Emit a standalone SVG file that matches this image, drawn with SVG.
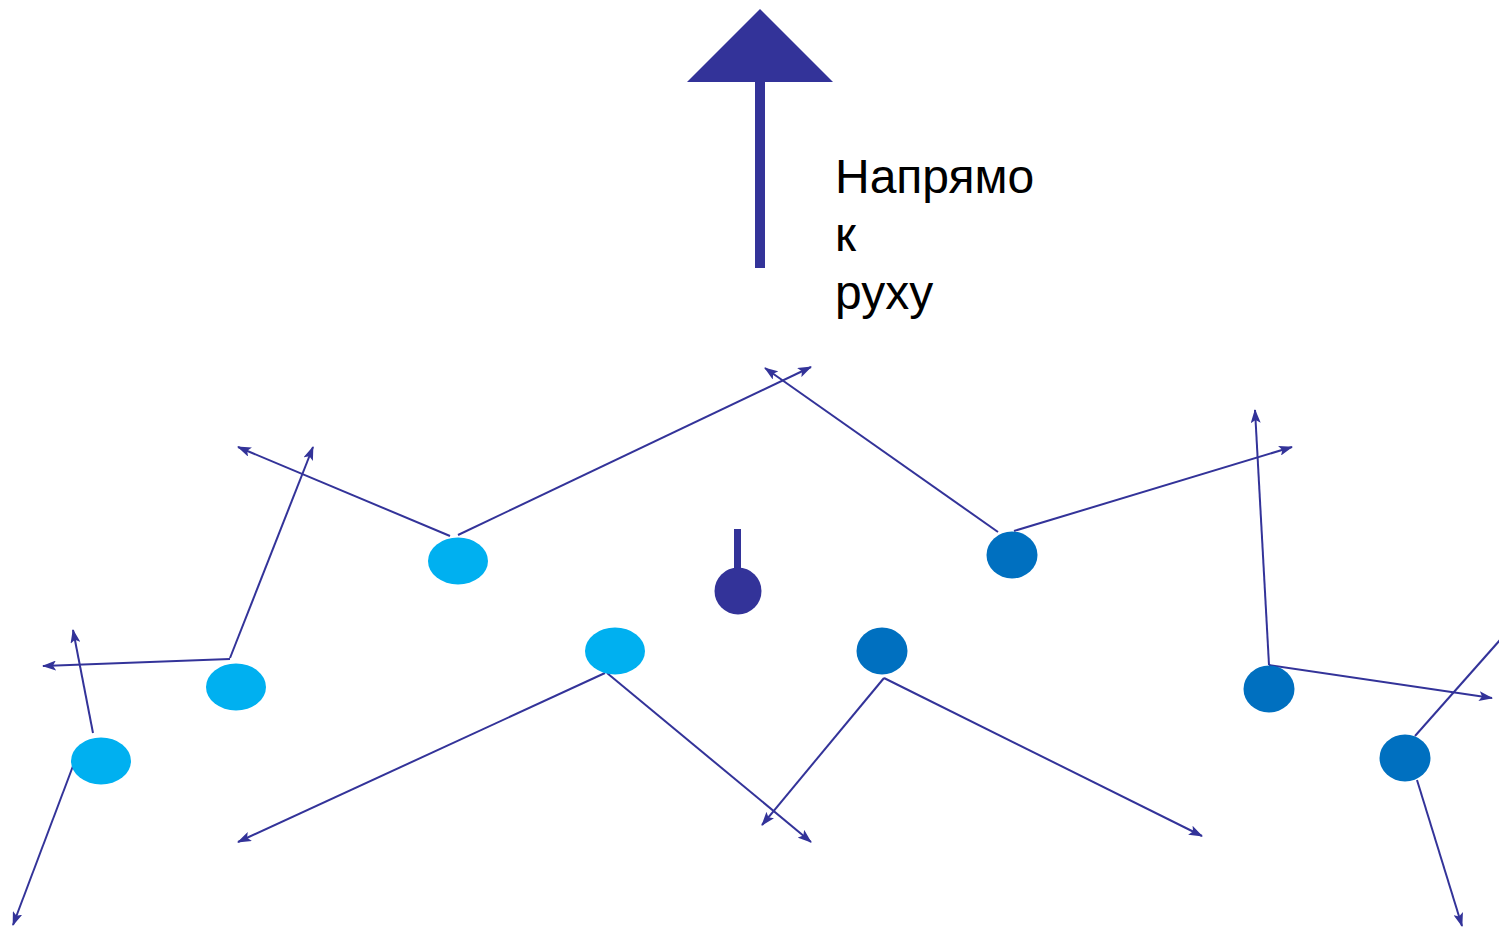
<svg xmlns="http://www.w3.org/2000/svg" width="1499" height="928" viewBox="0 0 1499 928">
<style>
.c{stroke:#333399;stroke-width:2;fill:none;marker-end:url(#ah)}
.lb{fill:#00b0f0}
.db{fill:#0070c0}
.t{font-family:"Liberation Sans",Arial,sans-serif;font-size:48px;fill:#000}
</style>
<defs>
<marker id="ah" markerUnits="userSpaceOnUse" markerWidth="14" markerHeight="10" refX="13" refY="5" orient="auto">
<path d="M0,0 L14,5 L0,10 L3,5 Z" fill="#333399"/>
</marker>
</defs>
<rect width="1499" height="928" fill="#fff"/>
<g id="connectors">
<line class="c" x1="450" y1="536" x2="238" y2="447"/>
<line class="c" x1="458" y1="535" x2="811" y2="367"/>
<line class="c" x1="998" y1="532" x2="765" y2="368"/>
<line class="c" x1="1014" y1="531" x2="1292" y2="447"/>
<line class="c" x1="230" y1="658" x2="313" y2="447"/>
<line class="c" x1="230" y1="659" x2="43" y2="666"/>
<line class="c" x1="93" y1="733" x2="73" y2="630"/>
<line class="c" x1="73" y1="766" x2="13" y2="925"/>
<line class="c" x1="605" y1="673" x2="238" y2="842"/>
<line class="c" x1="607" y1="673" x2="811" y2="842"/>
<line class="c" x1="884" y1="678" x2="762" y2="825"/>
<line class="c" x1="884" y1="678" x2="1202" y2="836"/>
<line class="c" x1="1269" y1="665" x2="1255" y2="410"/>
<line class="c" x1="1269" y1="665" x2="1492" y2="698"/>
<line x1="1415" y1="736" x2="1500" y2="640" stroke="#333399" stroke-width="2"/>
<line class="c" x1="1417" y1="780" x2="1462" y2="926"/>
</g>
<g id="big-arrow">
<rect x="755" y="80" width="10" height="188" fill="#333399"/>
<polygon points="760,9 833,82 687,82" fill="#333399"/>
</g>
<g id="label">
<text class="t" x="835" y="193">Напрямо</text>
<text class="t" x="835" y="251">к</text>
<text class="t" x="835" y="309">руху</text>
</g>
<g id="center">
<rect x="734" y="529" width="7" height="42" fill="#333399"/>
<circle cx="738" cy="591" r="23.5" fill="#333399"/>
</g>
<g id="n1"><ellipse class="lb" cx="458" cy="561" rx="30" ry="23.5"/></g>
<g id="n2"><ellipse class="lb" cx="615" cy="651" rx="30" ry="23.5"/></g>
<g id="n3"><ellipse class="lb" cx="236" cy="687" rx="30" ry="23.5"/></g>
<g id="n4"><ellipse class="lb" cx="101" cy="761" rx="30" ry="23.5"/></g>
<g id="n5"><ellipse class="db" cx="1012" cy="555" rx="25.5" ry="23.5"/></g>
<g id="n6"><ellipse class="db" cx="882" cy="651" rx="25.5" ry="23.5"/></g>
<g id="n7"><ellipse class="db" cx="1269" cy="689" rx="25.5" ry="23.5"/></g>
<g id="n8"><ellipse class="db" cx="1405" cy="758" rx="25.5" ry="23.5"/></g>
</svg>
